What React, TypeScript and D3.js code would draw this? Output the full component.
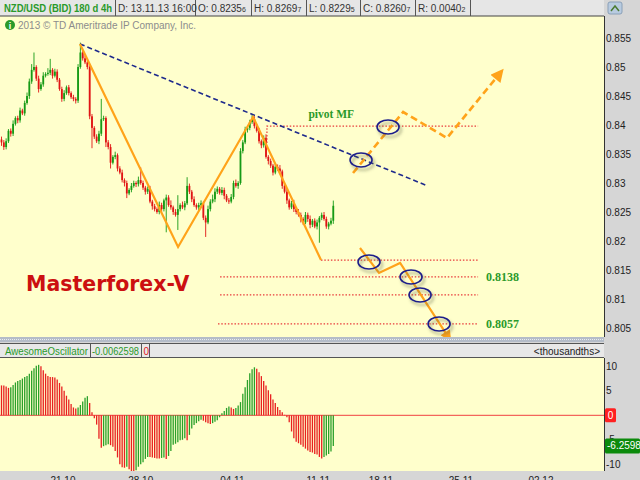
import * as d3 from "d3";

// 4h candles, closes (open = previous close)
const firstOpen = 0.8375;
const closes = [
  0.8370, 0.8362, 0.8372, 0.8390, 0.8385, 0.8402, 0.8412, 0.8408, 0.8425, 0.8420,
  0.8438, 0.8450, 0.8475, 0.8495, 0.8500, 0.8480, 0.8462, 0.8470, 0.8485, 0.8488,
  0.8490, 0.8495, 0.8485, 0.8492, 0.8478, 0.8462, 0.8445, 0.8455, 0.8465, 0.8455,
  0.8448, 0.8445, 0.8442, 0.8500, 0.8525, 0.8515, 0.8508, 0.8500, 0.8415, 0.8395,
  0.8380, 0.8372, 0.8385, 0.8410, 0.8412, 0.8370, 0.8362, 0.8335, 0.8345, 0.8348,
  0.8325, 0.8318, 0.8305, 0.8300, 0.8282, 0.8288, 0.8295, 0.8300, 0.8298, 0.8305,
  0.8300, 0.8292, 0.8285, 0.8290, 0.8268, 0.8260, 0.8255, 0.8250, 0.8262, 0.8255,
  0.8270, 0.8275, 0.8262, 0.8258, 0.8250, 0.8245, 0.8255, 0.8262, 0.8258, 0.8265,
  0.8295, 0.8285, 0.8272, 0.8262, 0.8258, 0.8262, 0.8265, 0.8240, 0.8232, 0.8255,
  0.8268, 0.8272, 0.8285, 0.8290, 0.8283, 0.8288, 0.8278, 0.8270, 0.8268, 0.8276,
  0.8300, 0.8295, 0.8300, 0.8355, 0.8370, 0.8392, 0.8395, 0.8405, 0.8410, 0.8398,
  0.8390, 0.8372, 0.8365, 0.8378, 0.8345, 0.8338, 0.8330, 0.8318, 0.8328, 0.8325,
  0.8320, 0.8295, 0.8285, 0.8270, 0.8258, 0.8265, 0.8255, 0.8250, 0.8245, 0.8238,
  0.8232, 0.8245, 0.8238, 0.8228, 0.8235, 0.8225, 0.8232, 0.8240, 0.8245, 0.8238,
  0.8225, 0.8230, 0.8235, 0.82607,
];
// wick lengths beyond the body, in pips
const wickUp = [
  5, 4, 5, 3, 4, 6, 3, 4, 5, 3,
  4, 6, 5, 10, 25, 3, 5, 4, 6, 3,
  8, 19, 3, 5, 4, 3, 4, 5, 3, 4,
  3, 4, 3, 5, 17, 4, 5, 3, 3, 4,
  3, 4, 5, 35, 4, 3, 4, 5, 3, 6,
  3, 4, 5, 3, 4, 3, 5, 4, 3, 6,
  22, 4, 3, 4, 5, 3, 4, 3, 6, 4,
  3, 5, 4, 8, 3, 5, 24, 3, 6, 4,
  15, 4, 3, 5, 3, 4, 5, 3, 4, 6,
  4, 8, 6, 4, 3, 5, 4, 3, 4, 5,
  4, 6, 3, 5, 4, 5, 3, 4, 7, 5,
  4, 5, 3, 4, 6, 3, 4, 3, 5, 4,
  6, 3, 4, 5, 3, 4, 6, 3, 5, 4,
  3, 5, 4, 6, 3, 4, 5, 3, 4, 5,
  4, 3, 5, 9,
];
const wickDn = [
  6, 5, 4, 3, 5, 4, 3, 5, 4, 3,
  4, 3, 5, 4, 3, 4, 6, 3, 4, 3,
  3, 4, 5, 3, 4, 3, 5, 4, 3, 4,
  3, 4, 5, 4, 3, 4, 3, 4, 5, 35,
  4, 3, 5, 4, 3, 8, 4, 10, 3, 4,
  5, 3, 4, 6, 8, 3, 4, 3, 5, 4,
  3, 4, 5, 4, 3, 6, 4, 3, 4, 5,
  4, 55, 3, 4, 5, 3, 26, 4, 3, 5,
  3, 4, 5, 3, 4, 6, 3, 4, 25, 3,
  4, 3, 5, 4, 3, 4, 6, 3, 4, 3,
  4, 3, 5, 3, 4, 3, 5, 4, 3, 4,
  3, 4, 5, 4, 3, 6, 4, 5, 3, 4,
  4, 5, 3, 6, 4, 3, 5, 4, 3, 6,
  4, 3, 5, 6, 4, 3, 5, 35, 4, 3,
  4, 5, 3, 5.5,
];
// Awesome Oscillator, thousandths
const aoValues = [
  6.1, 6.1, 5.9, 5.6, 5.7, 6.2, 6.7, 7.0, 7.2, 7.5,
  7.8, 8.0, 8.5, 9.1, 9.6, 10.1, 10.3, 10.0, 9.2, 8.5,
  8.0, 7.8, 7.8, 7.7, 7.3, 6.6, 5.9, 5.0, 4.0, 3.2,
  2.3, 1.6, 1.4, 1.6, 2.1, 2.8, 3.6, 3.9, 2.5, 0.6,
  -0.6, -1.9, -4.8, -6.6, -6.3, -6.1, -5.9, -6.1, -6.4, -7.3,
  -8.6, -10.0, -10.6, -10.7, -10.5, -11.0, -11.4, -11.4, -11.2, -10.5,
  -10.0, -9.6, -8.9, -8.5, -8.5, -8.6, -8.7, -8.8, -8.8, -8.7,
  -8.6, -8.9, -8.3, -7.3, -6.0, -5.8, -5.5, -5.1, -5.0, -4.7,
  -5.1, -4.0, -2.7, -2.0, -1.6, -1.2, -0.9, -1.1, -1.4, -1.6,
  -1.8, -1.6, -1.3, -1.0, -0.4, 0.4, 0.9, 1.5, 1.8, 1.6,
  1.3, 1.5, 2.0, 2.7, 4.4, 5.7, 7.2, 8.6, 9.4, 9.8,
  9.5, 8.8, 8.0, 7.0, 6.1, 5.1, 4.3, 3.2, 2.5, 1.7,
  1.1, 0.6, 0.1, -0.4, -1.4, -3.3, -4.7, -5.4, -5.7, -6.0,
  -6.4, -6.8, -7.2, -7.5, -7.6, -7.9, -8.0, -8.5, -8.8, -8.5,
  -8.2, -7.9, -7.4, -6.26,
];

const priceTicks = [0.855, 0.85, 0.845, 0.84, 0.835, 0.83, 0.825, 0.82, 0.815, 0.81, 0.805];
const aoTicks = [10, 5, -5, -10];
const dateLabels = ["21.10", "28.10", "04.11", "11.11", "18.11", "25.11", "02.12"];
const dateIdx = [26.5, 60, 99.5, 136.5, 163.5, 198, 232.5];

const headerCells = [
  { label: "D: 13.11.13 16:00", small: "" },
  { label: "O: 0.8235", small: "6" },
  { label: "H: 0.8269", small: "7" },
  { label: "L: 0.8229", small: "5" },
  { label: "C: 0.8260", small: "7" },
  { label: "R: 0.0040", small: "2" },
];

// drawn analysis: [bar index, price]
const zigzag: [number, number][] = [[33.8, 0.85397], [76.1, 0.81897], [108.4, 0.84138], [137.7, 0.81673]];
const trendLine: [number, number][] = [[33.8, 0.85397], [183.8, 0.82948]];
const pivotLine: [number, number][] = [[114.4, 0.8369], [114.4, 0.8398], [205.4, 0.8398]];
const levelLines: [number, number, number][] = [
  [137.7, 205.4, 0.8167],
  [94.2, 205.4, 0.8138],
  [94.2, 205.4, 0.8107],
  [93.3, 205.4, 0.8057],
];
const bearPath: [number, number][] = [[154.5, 0.8188], [162.7, 0.81449], [171.8, 0.81621], [192.8, 0.80330]];
const bullPath: [number, number][] = [[151.5, 0.83173], [173.1, 0.84224], [192.0, 0.83776], [215.0, 0.84900]];
const circles: [number, number][] = [
  [166.6, 0.83966], [154.96, 0.83397], [158.4, 0.81638], [176.5, 0.8138], [180.4, 0.8107], [188.6, 0.8057],
];

const pip = 0.0001;
const font = "Liberation Sans, Arial, sans-serif";
const serif = "Liberation Serif, Times New Roman, serif";
const plotW = 604;

export default function App() {
  const x = d3.scaleLinear().domain([0, 143]).range([1.5, 333.3]);
  const y = d3.scaleLinear().domain([0.805, 0.855]).range([328, 38]);
  const ya = d3.scaleLinear().domain([-10, 10]).range([464.3, 366.3]);
  const line = d3.line<[number, number]>().x((d) => x(d[0])).y((d) => y(d[1]));

  const bars = closes.map((c, i) => {
    const o = i === 0 ? firstOpen : closes[i - 1];
    return { i, o, c, hi: Math.max(o, c) + wickUp[i] * pip, lo: Math.min(o, c) - wickDn[i] * pip };
  });

  const green = "#159a15";
  const red = "#e01414";
  const cellEdges = [115, 195, 251, 306, 360, 415, 470];

  return (
    <svg width={640} height={480} style={{ position: "absolute", left: 0, top: 0 }}>
      <defs>
        <filter id="sh" x="-50%" y="-50%" width="200%" height="200%">
          <feDropShadow dx="2" dy="3" stdDeviation="1.6" floodColor="#5a6040" floodOpacity="0.55" />
        </filter>
        <marker id="arrDash" viewBox="0 0 10 10" refX="6" refY="5" markerWidth="14" markerHeight="13"
          markerUnits="userSpaceOnUse" orient="auto">
          <path d="M0,0 L10,5 L0,10 Z" fill="#ffa31a" />
        </marker>
        <marker id="arrSolid" viewBox="0 0 10 10" refX="6" refY="5" markerWidth="12" markerHeight="11"
          markerUnits="userSpaceOnUse" orient="auto">
          <path d="M0,0 L10,5 L0,10 Z" fill="#ffa31a" />
        </marker>
        <clipPath id="pricePane"><rect x={0} y={16} width={plotW} height={326} /></clipPath>
      </defs>

      <rect width={640} height={480} fill="#d6d6d6" />

      {/* price pane */}
      <rect x={0} y={16} width={plotW} height={321} fill="#ffffcc" />

      {/* header */}
      <rect x={0} y={0} width={plotW} height={16} fill="#e6e6e6" />
      <line x1={0} x2={plotW} y1={16} y2={16} stroke="#444" />
      {cellEdges.map((e) => (
        <line key={e} x1={e + 0.5} x2={e + 0.5} y1={0} y2={16} stroke="#555" />
      ))}
      <text x={4} y={12} fontFamily={font} fontSize={10.5} fontWeight="bold" fill="#2a9a2a"
        textLength={108} lengthAdjust="spacingAndGlyphs">NZD/USD (BID) 180 d 4h</text>
      {headerCells.map((h, k) => (
        <text key={h.label} x={cellEdges[k] + 3} y={12} fontFamily={font} fontSize={10} fill="#333">
          {h.label}
          <tspan fontSize={7}>{h.small}</tspan>
        </text>
      ))}
      <rect x={608} y={2} width={14} height={12} rx={2} fill="#b8cbe0" stroke="#8aa0b8" />
      <path d="M611,11 L615,6 L619,11" fill="none" stroke="#4a7a30" strokeWidth={1.5} />

      {/* copyright */}
      <circle cx={10} cy={25} r={5} fill="#2a9a2a" />
      <text x={10} y={28.5} textAnchor="middle" fontFamily={font} fontSize={9} fontWeight="bold" fill="#fff">i</text>
      <text x={18} y={29} fontFamily={font} fontSize={10} fill="#8c8c8c">2013 © TD Ameritrade IP Company, Inc.</text>

      {/* candles */}
      <g clipPath="url(#pricePane)">
        {bars.map((b) => {
          const col = b.c >= b.o ? green : red;
          const top = y(Math.max(b.o, b.c));
          const h = Math.max(1, y(Math.min(b.o, b.c)) - top);
          return (
            <g key={b.i}>
              <line x1={x(b.i)} x2={x(b.i)} y1={y(b.hi)} y2={y(b.lo)} stroke={col} strokeWidth={0.9} />
              <rect x={x(b.i) - 0.9} y={top} width={1.8} height={h} fill={col} />
            </g>
          );
        })}

        {/* levels */}
        {levelLines.map((l) => (
          <line key={l[2]} x1={x(l[0])} x2={x(l[1])} y1={y(l[2])} y2={y(l[2])}
            stroke="#e83a3a" strokeWidth={1.2} strokeDasharray="1.5,1.8" />
        ))}
        <path d={line(pivotLine) ?? ""} fill="none" stroke="#e83a3a" strokeWidth={1.2} strokeDasharray="1.5,1.8" />

        <path d={line(trendLine) ?? ""} fill="none" stroke="#1e2a8c" strokeWidth={1.6} strokeDasharray="5,3" />
        <path d={line(zigzag) ?? ""} fill="none" stroke="#ffa31a" strokeWidth={2.2} strokeLinejoin="miter" />
        <path d={line(bullPath) ?? ""} fill="none" stroke="#ffa31a" strokeWidth={2.6} strokeDasharray="7,4"
          markerEnd="url(#arrDash)" />
        <path d={line(bearPath) ?? ""} fill="none" stroke="#ffa31a" strokeWidth={2.2} markerEnd="url(#arrSolid)" />

        {circles.map((c) => (
          <ellipse key={c[0]} cx={x(c[0])} cy={y(c[1])} rx={11} ry={7} fill="none" stroke="#1c1f8a"
            strokeWidth={1.6} filter="url(#sh)" />
        ))}

        <text x={x(132.3)} y={y(0.8398) - 8} fontFamily={serif} fontSize={11.5} fontWeight="bold" fill="#2a9a2a">pivot MF</text>
        <text x={x(205.4) + 8} y={y(0.8138) + 4} fontFamily={serif} fontSize={12} fontWeight="bold" fill="#2a9a2a">0.8138</text>
        <text x={x(205.4) + 8} y={y(0.8057) + 4} fontFamily={serif} fontSize={12} fontWeight="bold" fill="#2a9a2a">0.8057</text>

        <text x={26} y={291} fontFamily="DejaVu Sans, Verdana, sans-serif" fontSize={20.5} fontWeight="bold" fill="#cc1010">Masterforex-V</text>
      </g>

      <line x1={plotW + 0.5} x2={plotW + 0.5} y1={16} y2={337} stroke="#333" />
      {priceTicks.map((t) => (
        <text key={t} x={606} y={y(t) + 3.5} fontFamily={font} fontSize={10} fill="#222">{t}</text>
      ))}

      {/* pane separator */}
      <rect x={0} y={337} width={plotW} height={5} fill="#b4bcc8" />
      <line x1={0} x2={plotW} y1={339.5} y2={339.5} stroke="#e8ecf0" strokeDasharray="1,1" />

      {/* oscillator header */}
      <rect x={0} y={343} width={plotW} height={15} fill="#e8e8e8" />
      <line x1={0} x2={plotW} y1={343.5} y2={343.5} stroke="#555" />
      <line x1={0} x2={plotW} y1={357.5} y2={357.5} stroke="#555" />
      {[90, 141, 149].map((e) => (
        <line key={e} x1={e + 0.5} x2={e + 0.5} y1={343} y2={358} stroke="#555" />
      ))}
      <text x={5} y={354.5} fontFamily={font} fontSize={10} fill="#2a9a2a" textLength={83}
        lengthAdjust="spacingAndGlyphs">AwesomeOscillator</text>
      <text x={92} y={354.5} fontFamily={font} fontSize={10} fill="#2a9a2a" textLength={47}
        lengthAdjust="spacingAndGlyphs">-0.0062598</text>
      <text x={143.5} y={354.5} fontFamily={font} fontSize={10} fill="#e02020">0</text>
      <text x={600} y={354.5} textAnchor="end" fontFamily={font} fontSize={10} fill="#222">&lt;thousandths&gt;</text>

      {/* oscillator pane */}
      <rect x={0} y={358} width={plotW} height={113} fill="#ffffcc" />
      <line x1={0} x2={plotW} y1={ya(0)} y2={ya(0)} stroke="#f04040" strokeWidth={1} />
      {aoValues.map((v, i) => {
        const up = i > 0 && v > aoValues[i - 1];
        return (
          <line key={i} x1={x(i)} x2={x(i)} y1={ya(0)} y2={Math.min(471, ya(v))}
            stroke={up ? "#2aa02a" : "#e82020"} strokeWidth={1.3} />
        );
      })}
      <line x1={plotW + 0.5} x2={plotW + 0.5} y1={358} y2={471} stroke="#333" />
      {aoTicks.map((t) => (
        <text key={t} x={606} y={ya(t) + 3.5} fontFamily={font} fontSize={10} fill="#222">{t}</text>
      ))}
      <rect x={605} y={ya(0) - 7} width={11} height={14} rx={1.5} fill="#ff2020" />
      <text x={610.5} y={ya(0) + 3.5} textAnchor="middle" fontFamily={font} fontSize={10} fill="#fff">0</text>
      <rect x={605} y={ya(-6.2598) - 7.5} width={35} height={15} rx={1.5} fill="#0c8a0c" />
      <text x={607} y={ya(-6.2598) + 3.5} fontFamily={font} fontSize={10} fill="#fff">-6.2598</text>

      {/* date axis */}
      {dateLabels.map((d, k) => (
        <text key={d} x={x(dateIdx[k])} y={484} textAnchor="middle" fontFamily={font} fontSize={10} fill="#222">{d}</text>
      ))}
    </svg>
  );
}
